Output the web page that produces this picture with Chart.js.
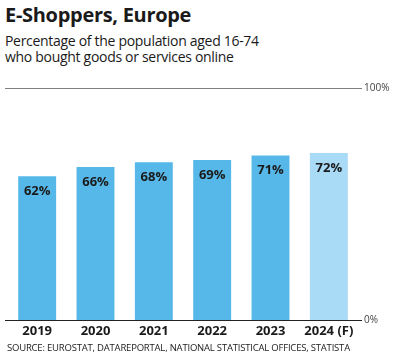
<!DOCTYPE html>
<html>
<head>
<meta charset="utf-8">
<script src="https://cdn.jsdelivr.net/npm/chart.js@4.4.1/dist/chart.umd.min.js"></script>
<style>
  body { margin: 0; background: #fff; font-family: "Open Sans", sans-serif; color: #1a1a1a; }
  #wrap { position: relative; width: 407px; height: 363px; }
  h1 { position: absolute; left: 5px; top: 1px; margin: 0; font-size: 20px; font-weight: 700; letter-spacing: -0.3px; }
  .sub { position: absolute; left: 5px; top: 33px; margin: 0; font-size: 14px; line-height: 16px; letter-spacing: -0.3px; }
  .src { position: absolute; left: 7px; top: 341px; font-size: 9.5px; letter-spacing: -0.2px; color: #222; }
  #box { position: absolute; left: 0; top: 75px; width: 407px; height: 267px; }
</style>
</head>
<body>
<div id="wrap">
  <h1>E-Shoppers, Europe</h1>
  <p class="sub">Percentage of the population aged 16-74<br>who bought goods or services online</p>
  <div id="box"><canvas id="chart"></canvas></div>
  <div class="src">SOURCE: EUROSTAT, DATAREPORTAL, NATIONAL STATISTICAL OFFICES, STATISTA</div>
</div>
<script>
const years = ["2019", "2020", "2021", "2022", "2023", "2024 (F)"];
const shoppers = [62, 66, 68, 69, 71, 72];
const barColors = ["#56b8e8", "#56b8e8", "#56b8e8", "#56b8e8", "#56b8e8", "#a9daf6"];

// draws the 100% / 0% reference lines and their labels plus the value labels
const refLines = {
  id: "refLines",
  afterDatasetsDraw(chart) {
    const ctx = chart.ctx;
    const y = chart.scales.y;
    const top = Math.round(y.getPixelForValue(100)) + 0.5;
    const bottom = Math.round(y.getPixelForValue(0)) + 0.5;
    ctx.save();
    ctx.lineWidth = 1;
    ctx.strokeStyle = "#808080";
    ctx.beginPath(); ctx.moveTo(5, top); ctx.lineTo(362, top); ctx.stroke();
    ctx.strokeStyle = "#222";
    ctx.lineWidth = 1.2;
    ctx.beginPath(); ctx.moveTo(5, bottom); ctx.lineTo(362, bottom); ctx.stroke();
    ctx.fillStyle = "#444";
    ctx.font = "10px 'Open Sans'";
    ctx.textBaseline = "middle";
    ctx.fillText("100%", 364, top);
    ctx.fillText("0%", 364, bottom);

    ctx.font = "bold 13px 'Open Sans'";
    ctx.fillStyle = "#1a1a1a";
    ctx.textAlign = "center";
    chart.getDatasetMeta(0).data.forEach((bar, i) => {
      ctx.fillText(shoppers[i] + "%", bar.x, bar.y + 15);
    });
    ctx.restore();
  }
};

new Chart(document.getElementById("chart"), {
  type: "bar",
  data: {
    labels: years,
    datasets: [{
      data: shoppers,
      backgroundColor: barColors,
      barPercentage: 0.65,
      categoryPercentage: 1
    }]
  },
  options: {
    responsive: true,
    maintainAspectRatio: false,
    animation: false,
    layout: { padding: { left: 8, right: 49, top: 13, bottom: 0 } },
    plugins: { legend: { display: false }, tooltip: { enabled: false } },
    scales: {
      x: {
        grid: { display: false, drawTicks: false },
        border: { display: false },
        ticks: { color: "#1a1a1a", font: { family: "Open Sans", size: 13, weight: "bold" }, padding: 3 }
      },
      y: {
        display: false,
        min: 0,
        max: 100
      }
    }
  },
  plugins: [refLines]
});
</script>
</body>
</html>
